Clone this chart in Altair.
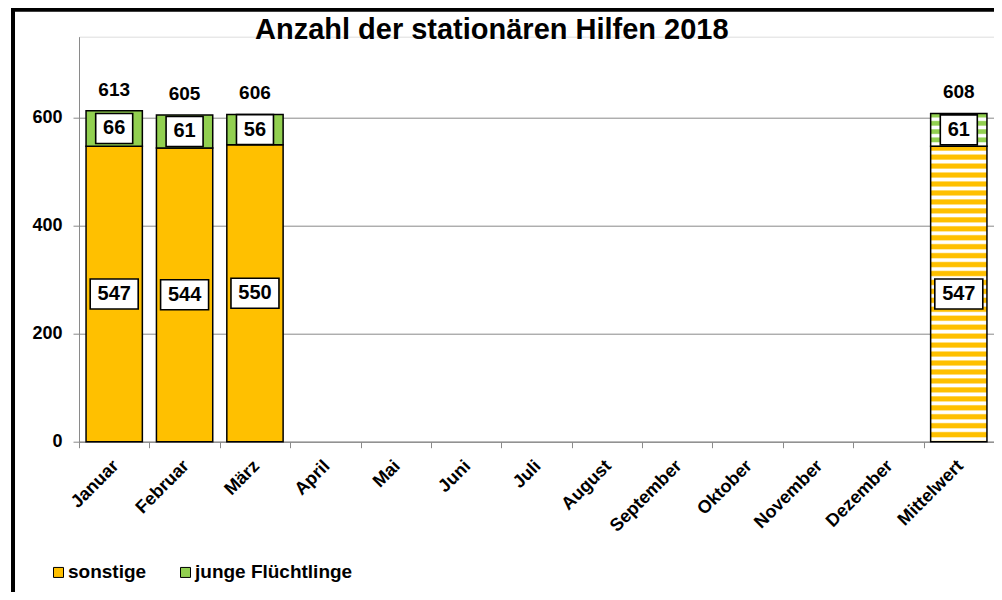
import altair as alt
import pandas as pd

months = ["Januar", "Februar", "März", "April", "Mai", "Juni", "Juli", "August",
          "September", "Oktober", "November", "Dezember", "Mittelwert"]
sonstige = [547, 544, 550, None, None, None, None, None, None, None, None, None, 547]
junge = [66, 61, 56, None, None, None, None, None, None, None, None, None, 61]
series_names = ["sonstige", "junge Flüchtlinge"]
series_colors = ["#FFC000", "#92D050"]
y_ticks = [0, 200, 400, 600]
title_text = "Anzahl der stationären Hilfen 2018"
MEAN = "Mittelwert"

FONT = "Liberation Sans"
GRAY = "#8a8a8a"

rows, totals = [], []
for m, s, j in zip(months, sonstige, junge):
    if s is None:
        continue
    for name, lo, hi, v in [(series_names[0], 0, s, s), (series_names[1], s, s + j, j)]:
        rows.append({"month": m, "series": name, "start": lo, "end": hi,
                     "mid": (lo + hi) / 2, "value": v,
                     "nd": str(len(str(v))), "mean": m == MEAN})
    totals.append({"month": m, "total": s + j})
df = pd.DataFrame(rows)
df_tot = pd.DataFrame(totals)


def stripes(color, n):
    stops = []
    for k in range(n):
        stops += [
            alt.GradientStop(offset=k / n, color=color),
            alt.GradientStop(offset=(k + 0.42) / n, color=color),
            alt.GradientStop(offset=(k + 0.58) / n, color="#ffffff"),
            alt.GradientStop(offset=(k + 0.84) / n, color="#ffffff"),
        ]
    stops.append(alt.GradientStop(offset=1, color=color))
    return alt.Gradient(gradient="linear", stops=stops, x1=0, x2=0, y1=0, y2=1)


xenc = alt.X("month:N", sort=months,
             scale=alt.Scale(domain=months, paddingInner=0, paddingOuter=0),
             axis=alt.Axis(title=None, labelAngle=-45, labelFont=FONT, labelFontSize=18,
                           labelFontWeight="bold", labelColor="black", tickBand="extent",
                           domainColor=GRAY, tickColor=GRAY, tickSize=6, labelPadding=9,
                           labelOffset=-5, grid=False))
yscale = alt.Scale(domain=[0, 750], nice=False)
yaxis = alt.Axis(title=None, values=y_ticks, labelFont=FONT, labelFontSize=18,
                 labelFontWeight="bold", labelColor="black", labelPadding=11,
                 tickSize=6, tickColor=GRAY, domainColor=GRAY, gridColor=GRAY,
                 gridWidth=1)

base = alt.Chart(df)

bars = base.transform_filter(alt.datum.mean == False).mark_bar(
    width=alt.RelativeBandSize(0.8), stroke="black", strokeWidth=1.5
).encode(
    x=xenc,
    y=alt.Y("start:Q", scale=yscale, axis=yaxis),
    y2="end:Q",
    color=alt.Color("series:N", scale=alt.Scale(domain=series_names, range=series_colors),
                    legend=alt.Legend(orient="none", legendX=-30, legendY=526,
                                      direction="horizontal", title=None,
                                      symbolType="square", symbolSize=100,
                                      symbolStrokeColor="black", symbolStrokeWidth=1,
                                      labelFont=FONT, labelFontSize=19,
                                      labelFontWeight="bold", labelColor="black",
                                      columnPadding=29, labelOffset=0, padding=0)),
)

mean_s = base.transform_filter(
    (alt.datum.mean == True) & (alt.datum.series == series_names[0])
).mark_bar(width=alt.RelativeBandSize(0.8), stroke="black", strokeWidth=1.5,
           fill=stripes(series_colors[0], 33)).encode(
    x=alt.X("month:N", sort=months), y=alt.Y("start:Q"), y2="end:Q")

mean_j = base.transform_filter(
    (alt.datum.mean == True) & (alt.datum.series == series_names[1])
).mark_bar(width=alt.RelativeBandSize(0.8), stroke="black", strokeWidth=1.5,
           fill=stripes(series_colors[1], 4)).encode(
    x=alt.X("month:N", sort=months), y=alt.Y("start:Q"), y2="end:Q")

path2 = "M-1,-0.81L1,-0.81L1,0.81L-1,0.81Z"
path3 = "M-1,-0.625L1,-0.625L1,0.625L-1,0.625Z"
boxes = base.mark_point(filled=True, fill="white", stroke="black", strokeWidth=1.6,
                        opacity=1, fillOpacity=1, strokeOpacity=1).encode(
    x=alt.X("month:N", sort=months),
    y=alt.Y("mid:Q"),
    shape=alt.Shape("nd:N", scale=alt.Scale(domain=["2", "3"], range=[path2, path3]),
                    legend=None),
    size=alt.Size("nd:O", scale=alt.Scale(domain=["2", "3"], range=[1369, 2304]),
                  legend=None),
)

labels = base.mark_text(font=FONT, fontSize=20, fontWeight="bold", color="black",
                        baseline="middle").encode(
    x=alt.X("month:N", sort=months), y=alt.Y("mid:Q"), text="value:Q")

tot = alt.Chart(df_tot).mark_text(font=FONT, fontSize=19, fontWeight="bold",
                                  color="black", baseline="middle", dy=-21).encode(
    x=alt.X("month:N", sort=months), y=alt.Y("total:Q"), text="total:Q")

frame = alt.Chart(pd.DataFrame({"k": [0]})).mark_rect(
    fillOpacity=0, stroke="black", strokeWidth=4).encode(
    x=alt.value(-66), x2=alt.value(960), y=alt.value(-27), y2=alt.value(600))

title = alt.Chart(pd.DataFrame({"t": [title_text]})).mark_text(
    font=FONT, fontSize=29, fontWeight="bold", color="black",
    align="left", baseline="alphabetic").encode(
    x=alt.value(176), y=alt.value(2.5), text="t:N")

chart = alt.layer(bars, mean_s, mean_j, boxes, labels, tot, frame, title).properties(
    width=915, height=405,
    autosize=alt.AutoSizeParams(type="none"),
    padding={"left": 71, "top": 28.7, "right": 0, "bottom": 150},
).configure_view(stroke=None).configure(background="white")

chart.save("out.html", embed_options={"renderer": "svg", "actions": False})
